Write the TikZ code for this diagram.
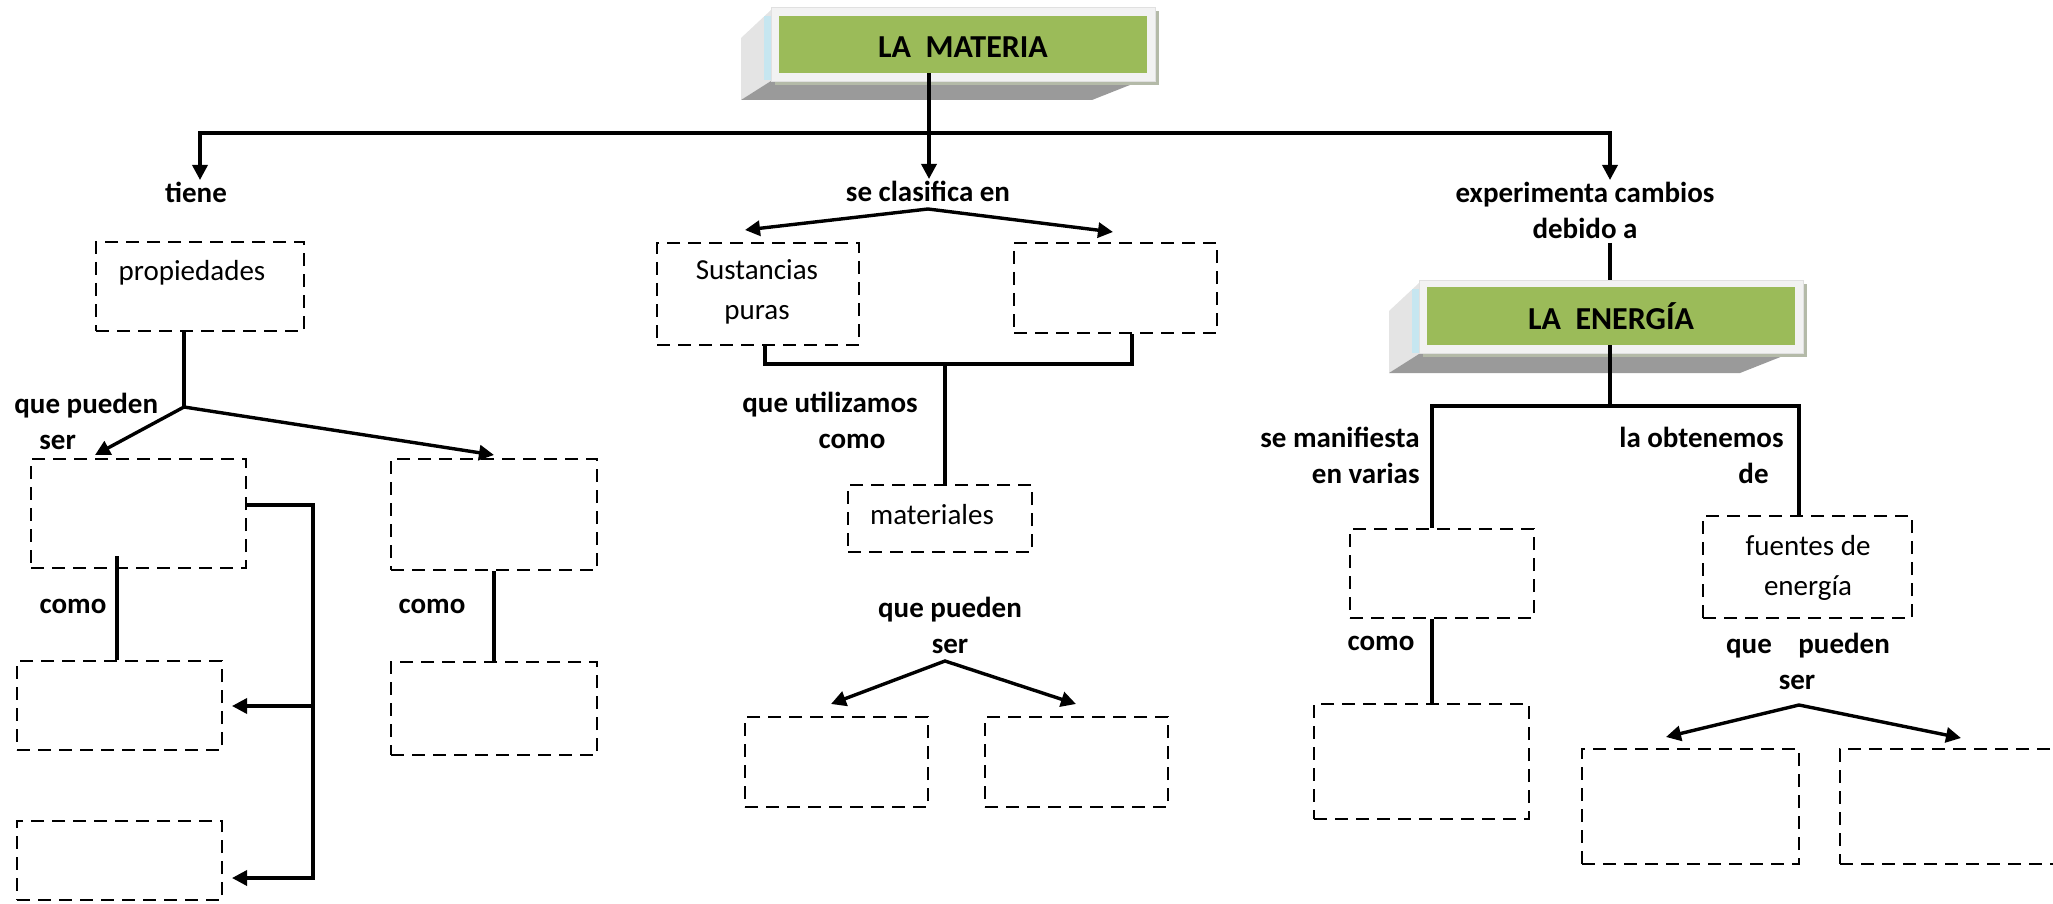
\documentclass[tikz,border=0pt]{standalone}
\usepackage{fontspec}
\setmainfont{Carlito}
\usetikzlibrary{arrows.meta,fit}
\definecolor{titlegreen}{HTML}{9BBB59}
\definecolor{framegray}{HTML}{F2F2F2}
\definecolor{sidegray}{HTML}{E4E4E4}
\definecolor{bottomgray}{HTML}{9A9A9A}
\definecolor{shadowgray}{HTML}{B4BAA8}
\definecolor{edgeblue}{HTML}{C6E6F0}
\begin{document}
\begin{tikzpicture}[x=0.5pt,y=-0.5pt,
  dbox/.style={draw, dash pattern=on 6.5pt off 4pt, line width=1.4pt, inner sep=0pt},
  txt/.style={inner sep=0pt, font=\fontsize{14.5}{20}\selectfont, align=center},
  lbl/.style={inner sep=0pt, font=\bfseries\fontsize{14.5}{18}\selectfont, align=center},
  conn/.style={line width=1.7pt},
  arr/.style={conn, -{Triangle[length=7.5pt,width=7.5pt]}},
  darr/.style={conn, {Triangle[length=7.5pt,width=7.5pt]}-{Triangle[length=7.5pt,width=7.5pt]}},
  frame/.style={fill=framegray, draw=black!12, line width=0.4pt, inner sep=0pt},
  ttl/.style={fill=titlegreen, inner sep=0pt},
  ttltxt/.style={inner sep=0pt, font=\bfseries\fontsize{16}{19}\selectfont},
  leftface/.style={fill=sidegray},
  bottomface/.style={fill=bottomgray},
  shade/.style={fill=shadowgray}
]
\useasboundingbox (0,0) rectangle (2053,904);

% ---------- 3D title box: LA MATERIA ----------
\fill[leftface] (771,10) -- (741,38) -- (741,100) -- (771,81) -- cycle;
\fill[bottomface] (741,100) -- (1092,100) -- (1140,81) -- (771,81) -- cycle;
\fill[edgeblue] (764,16) rectangle (771,80);
\fill[shade] (775,11) rectangle (1159,85);
\node[frame, fit={(771,7)(1155,81)}] (mframe) {};
\node[ttl, fit={(779,16)(1147,73)}] (materia) {};
\node[ttltxt] (materiaT) at ([yshift=-1.5pt]materia.center) {LA\ \ MATERIA};

% ---------- 3D box: LA ENERGIA ----------
\begin{scope}[shift={(648,273)}]
\fill[leftface] (771,10) -- (741,38) -- (741,100) -- (771,81) -- cycle;
\fill[bottomface] (741,100) -- (1092,100) -- (1140,81) -- (771,81) -- cycle;
\fill[edgeblue] (764,16) rectangle (771,80);
\fill[shade] (775,11) rectangle (1159,84);
\end{scope}
\node[frame, fit={(1419,280)(1803,353)}] (eframe) {};
\node[ttl, fit={(1427,287)(1795,345)}] (energia) {};
\node[ttltxt] (energiaT) at (energia.center) {LA\ \ ENERGÍA};

% ---------- labels ----------
\node[lbl] (tiene) at (196,192) {tiene};
\node[lbl] (clasif) at (928,191) {se clasifica en};
\node[lbl] (exper) at (1585,210) {experimenta cambios\\debido a};
\node[lbl, align=left, anchor=west] (qps1) at (14,421) {que pueden\\\hspace*{12.5pt}ser};
\node[lbl] (como1) at (73,606) {como};
\node[lbl] (como2) at (432,606) {como};
\node[lbl] (utiliz) at (830,420) {que utilizamos\\\hspace*{22pt}como};
\node[lbl] (qps2) at (950,625) {que pueden\\ser};
\node[lbl, align=right, anchor=east] (manifl) at (1420,455) {se manifiesta\\en varias};
\node[lbl, align=right, anchor=east] (obten) at (1784,455) {la obtenemos\\de\hspace*{7.5pt}};
\node[lbl] (como3) at (1381,643) {como};
\node[lbl] (qps3) at (1808,661) {que\hspace{10pt} pueden\\ser\hspace*{11pt}};

% ---------- dashed boxes ----------
\node[dbox, fit={(96,242)(304,331)}] (prop) {};
\node[txt] (propT) at (192,273) {propiedades};
\node[dbox, fit={(31,459)(246,568)}] (boxA) {};
\node[dbox, fit={(391,459)(597,570)}] (boxB) {};
\node[dbox, fit={(17,661)(222,750)}] (boxC) {};
\node[dbox, fit={(391,662)(597,755)}] (boxB2) {};
\node[dbox, fit={(17,821)(222,900)}] (boxD) {};
\node[dbox, fit={(657,243)(859,345)}] (sp) {};
\node[txt] (spT) at (757,292) {Sustancias\\puras};
\node[dbox, fit={(1014,243)(1217,333)}] (boxR) {};
\node[dbox, fit={(848,485)(1032,552)}] (mat) {};
\node[txt] (matT) at (932,515) {materiales};
\node[dbox, fit={(745,717)(928,807)}] (mb1) {};
\node[dbox, fit={(985,717)(1168,807)}] (mb2) {};
\node[dbox, fit={(1350,529)(1534,618)}] (manif) {};
\node[dbox, fit={(1314,704)(1529,819)}] (manC) {};
\node[dbox, fit={(1703,516)(1912,618)}] (fuent) {};
\node[txt] (fuentT) at (1808,568) {fuentes de\\energía};
\node[dbox, fit={(1582,749)(1799,864)}] (eb1) {};
\node[dbox, fit={(1840,749)(2066,864)}] (eb2) {};

% ---------- coordinates ----------
\coordinate (jL) at (200,133);
\coordinate (jR) at (1610,133);
\coordinate (tTip) at (200,180);
\coordinate (eTip) at (1610,180);
\coordinate (cTip) at (929,179);
\coordinate (eTop) at (1610,243);
\coordinate (cA) at (928,209);
\coordinate (clL) at (745,230);
\coordinate (clR) at (1113,232);
\coordinate (pj) at (184,407);
\coordinate (pL) at (95,455);
\coordinate (pR) at (494,455);
\coordinate (aIn) at (117,556);
\coordinate (br1) at (313,505);
\coordinate (brm) at (313,706);
\coordinate (br2) at (313,878);
\coordinate (tC) at (232,706);
\coordinate (tD) at (232,878);
\coordinate (b1) at (765,364);
\coordinate (b2) at (1132,364);
\coordinate (bm) at (945,364);
\coordinate (mA) at (945,661);
\coordinate (mL) at (831,704);
\coordinate (mR) at (1076,704);
\coordinate (jE) at (1610,406);
\coordinate (jEL) at (1432,406);
\coordinate (jER) at (1799,406);
\coordinate (fA) at (1799,705);
\coordinate (fL) at (1666,737);
\coordinate (fR) at (1961,738);

% ---------- connectors ----------
\draw[darr] (tTip) -- (jL) -- (jR) -- (eTip);
\draw[arr] (cTip |- materia.south) -- (cTip);
\draw[conn] (eTop) -- (eTop |- eframe.north);
\draw[darr] (clL) -- (cA) -- (clR);

\draw[conn] (prop.south -| pj) -- (pj);
\draw[darr] (pL) -- (pj) -- (pR);
\draw[conn] (aIn) -- (aIn |- boxC.north);
\draw[conn] (boxB.south) -- (boxB2.north);
\draw[arr] (boxA.east |- br1) -- (br1) -- (br2) -- (tD);
\draw[arr] (brm) -- (tC);

\draw[conn] (sp.south -| b1) -- (b1) -- (b2) -- (boxR.south -| b2);
\draw[conn] (bm) -- (bm |- mat.north);
\draw[darr] (mL) -- (mA) -- (mR);

\draw[conn] (jE |- energia.south) -- (jE);
\draw[conn] (manif.north -| jEL) -- (jEL) -- (jER) -- (fuent.north -| jER);
\draw[conn] (manif.south -| jEL) -- (manC.north -| jEL);
\draw[darr] (fL) -- (fA) -- (fR);
\end{tikzpicture}
\end{document}
